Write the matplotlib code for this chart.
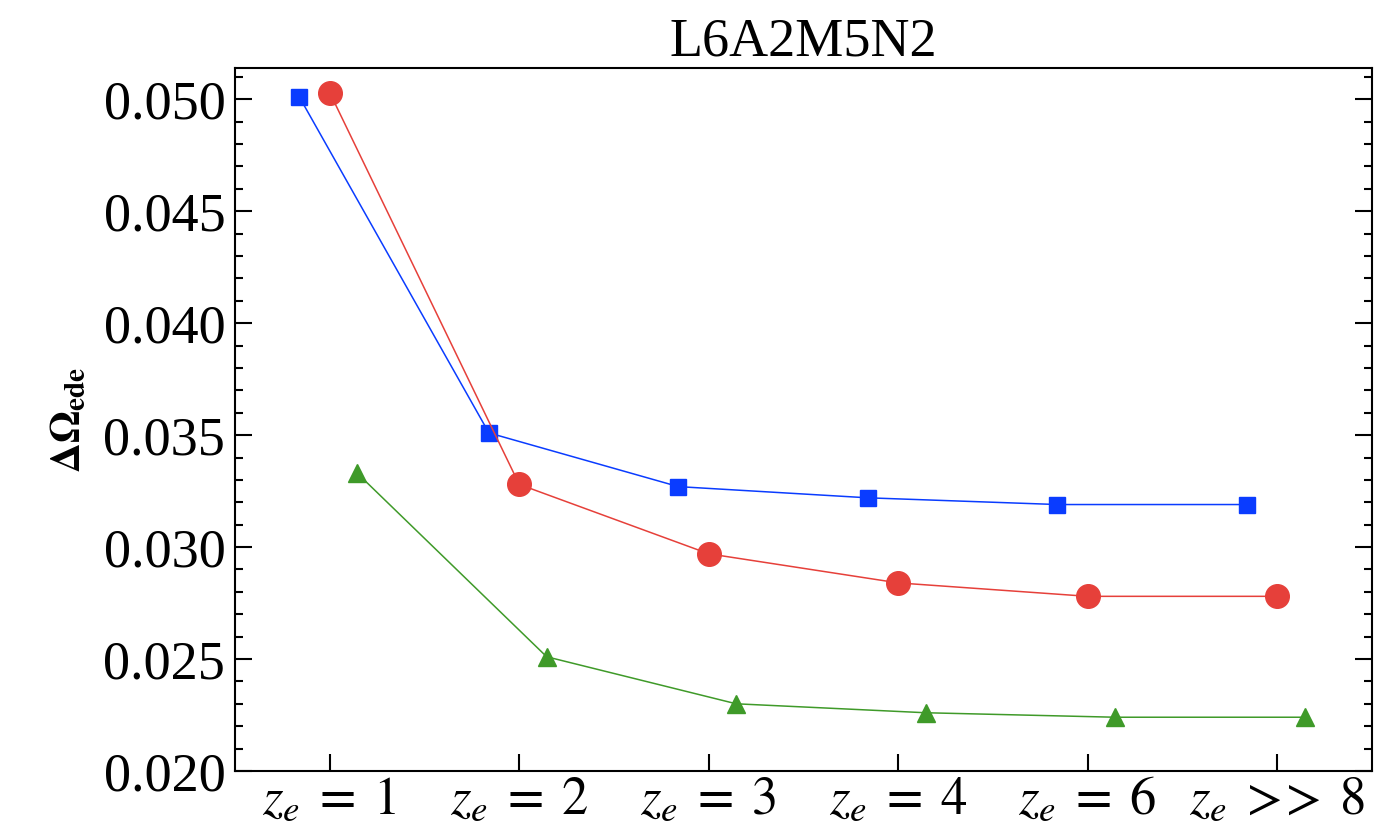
"""Delta Omega_ede versus z_e for the L6A2M5N2 model."""

import numpy as np
from matplotlib import pyplot as plt
from matplotlib.ticker import MultipleLocator

plt.rcParams["font.family"] = ["Liberation Serif", "DejaVu Serif"]
plt.rcParams["mathtext.fontset"] = "stix"

categories = [r"$z_e\;=\;1$", r"$z_e\;=\;2$", r"$z_e\;=\;3$", r"$z_e\;=\;4$",
              r"$z_e\;=\;6$", r"$z_e\;>\!\!>\;8$"]
blue_values = [0.0501, 0.0351, 0.0327, 0.0322, 0.0319, 0.0319]
red_values = [0.0503, 0.0328, 0.0297, 0.0284, 0.0278, 0.0278]
green_values = [0.0333, 0.0251, 0.0230, 0.0226, 0.0224, 0.0224]

positions = np.arange(1, len(categories) + 1)

fig = plt.figure(figsize=(13.79, 8.38), dpi=100)
ax = fig.add_axes([0.1704, 0.0800, 0.8245, 0.8389])

ax.plot(positions - 0.16, blue_values, color="#0a3cff", marker="s", markersize=12,
        linewidth=1.1)
ax.plot(positions, red_values, color="#e6403a", marker="o", markersize=17,
        linewidth=1.1)
ax.plot(positions + 0.145, green_values, color="#3f9a29", marker="^", markersize=13,
        linewidth=1.1)

ax.set_xlim(0.5, 6.5)
ax.set_ylim(0.020, 0.0514)
ax.set_xticks(positions)
ax.set_xticklabels(categories, fontsize=38)
ax.yaxis.set_major_locator(MultipleLocator(0.005))
ax.yaxis.set_minor_locator(MultipleLocator(0.001))
ax.set_yticklabels([f"{v:.3f}" for v in ax.get_yticks()], fontsize=39)

ax.tick_params(axis="y", which="both", direction="in", right=True, width=1.5)
ax.tick_params(axis="y", which="major", length=12, pad=7)
ax.tick_params(axis="y", which="minor", length=6)
ax.tick_params(axis="x", direction="in", length=12, width=1.5, pad=4)
for spine in ax.spines.values():
    spine.set_linewidth(1.5)

ax.set_title("L6A2M5N2", fontsize=39, pad=8)
ax.set_ylabel(r"$\mathbf{\Delta\Omega}_{\mathbf{ede}}$", fontsize=30, labelpad=10)

fig.savefig("out.png", dpi=100)
